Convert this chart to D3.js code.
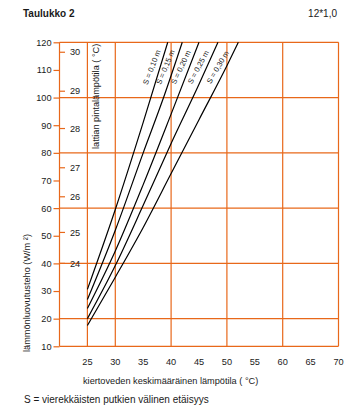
<!DOCTYPE html>
<html>
<head>
<meta charset="utf-8">
<script src="https://cdn.jsdelivr.net/npm/d3@7"></script>
<style>
  html, body { margin: 0; padding: 0; background: #fff; }
  svg { display: block; font-family: "Liberation Sans", Arial, sans-serif; }
</style>
</head>
<body>
<svg id="chart" width="349" height="411"></svg>
<script>
// Heat output of floor heating by mean circulating water temperature,
// one curve per pipe spacing S.
const waterTempTicks = [25, 30, 35, 40, 45, 50, 55, 60, 65, 70];
const heatTicks = [10, 20, 30, 40, 50, 60, 70, 80, 90, 100, 110, 120];
const gridTemps = [20, 25, 30, 40, 50, 60, 70];
const gridHeat = [10, 20, 40, 60, 80, 100, 120];

// Floor surface temperature scale, placed against the heat output axis
const floorTemps = [24, 25, 26, 27, 28, 29, 30];
const floorHeat = [40, 51.2, 64.1, 74.6, 88.8, 102.3, 116.4];

// Pipe spacings and their curves (water temperature °C, heat output W/m²)
const spacings = ["0,10", "0,15", "0,20", "0,25", "0,30"];
const s010Temp = [25, 30, 35, 39.4];
const s010Heat = [30.6, 59.5, 91, 120];
const s015Temp = [25, 30, 35, 38.65, 42];
const s015Heat = [26.9, 52, 80, 100, 120];
const s020Temp = [25, 30, 35, 40, 45];
const s020Heat = [23.7, 44.5, 68.5, 94, 120];
const s025Temp = [25, 30, 35, 40, 45, 48.4];
const s025Heat = [20, 39.2, 61, 83.4, 104.8, 120];
const s030Temp = [25, 30, 35, 40, 45, 50, 52.05];
const s030Heat = [17.5, 35, 53, 72.5, 92, 111.5, 120];

const seriesTemp = [s010Temp, s015Temp, s020Temp, s025Temp, s030Temp];
const seriesHeat = [s010Heat, s015Heat, s020Heat, s025Heat, s030Heat];

const ORANGE = "#e8681a";
const TEXT = "#1a1a1a";

const svg = d3.select("#chart");
svg.append("rect").attr("width", 349).attr("height", 411).attr("fill", "#fff");

const x = d3.scaleLinear().domain([20, 70]).range([59.5, 338.5]);
const y = d3.scaleLinear().domain([10, 120]).range([346.3, 42.3]);

// Header
svg.append("text").attr("x", 23).attr("y", 17)
  .attr("font-size", 10).attr("font-weight", "bold").attr("fill", TEXT)
  .text("Taulukko 2");
svg.append("text").attr("x", 337).attr("y", 17)
  .attr("font-size", 10).attr("text-anchor", "end").attr("fill", TEXT)
  .text("12*1,0");

// Grid
const grid = svg.append("g").attr("stroke", ORANGE).attr("stroke-width", 1.2);
grid.selectAll("line.h").data(gridHeat).join("line").attr("class", "h")
  .attr("x1", x(20)).attr("x2", x(70))
  .attr("y1", d => y(d)).attr("y2", d => y(d));
grid.selectAll("line.v").data(gridTemps).join("line").attr("class", "v")
  .attr("x1", d => x(d)).attr("x2", d => x(d))
  .attr("y1", y(10)).attr("y2", y(120));

// Heat output axis
const yAxis = d3.axisLeft(y).tickValues(heatTicks).tickSize(6).tickPadding(2)
  .tickFormat(d3.format("d"));
const yG = svg.append("g").attr("transform", `translate(${x(20)},0)`).call(yAxis);
yG.select(".domain").remove();
yG.selectAll(".tick line").attr("stroke", ORANGE).attr("stroke-width", 1.2);
yG.selectAll(".tick text").attr("fill", TEXT).attr("font-size", 9.2)
  .attr("font-family", "Liberation Sans, Arial, sans-serif");

// Floor surface temperature scale (ticks inside the plot)
const fG = svg.append("g");
fG.selectAll("line").data(floorTemps).join("line")
  .attr("x1", x(20)).attr("x2", x(20) + 5.5)
  .attr("y1", (d, i) => y(floorHeat[i])).attr("y2", (d, i) => y(floorHeat[i]))
  .attr("stroke", ORANGE).attr("stroke-width", 1.2);
fG.selectAll("text").data(floorTemps).join("text")
  .attr("x", x(20) + 10.5).attr("y", (d, i) => y(floorHeat[i]))
  .attr("dy", "0.35em").attr("font-size", 9.2).attr("fill", TEXT)
  .text(d => d);

// Water temperature tick labels
svg.append("g").selectAll("text").data(waterTempTicks).join("text")
  .attr("x", d => x(d)).attr("y", 364.5)
  .attr("text-anchor", "middle").attr("font-size", 9.2).attr("fill", TEXT)
  .text(d => d);

// Axis titles
svg.append("text").attr("x", 83).attr("y", 383.5)
  .attr("font-size", 9.2).attr("fill", TEXT)
  .text("kiertoveden keskimääräinen lämpötila ( °C)");
svg.append("text").attr("transform", "translate(30,352) rotate(-90)")
  .attr("font-size", 9.2).attr("fill", TEXT)
  .text("lämmönluovutusteho (W/m ²)");
svg.append("text").attr("transform", "translate(98.5,149) rotate(-90)")
  .attr("font-size", 9.2).attr("fill", TEXT)
  .text("lattian pintalämpötila ( °C)");

// Curves
const line = d3.line().x(d => x(d[0])).y(d => y(d[1])).curve(d3.curveMonotoneX);
const curveG = svg.append("g");
seriesTemp.forEach((temps, i) => {
  const pts = temps.map((t, j) => [t, seriesHeat[i][j]]);
  curveG.append("path").datum(pts)
    .attr("d", line).attr("fill", "none")
    .attr("stroke", "#000").attr("stroke-width", 1.2);
});

// Water temperature on a curve at a given heat output
function tempAt(i, q) {
  const temps = seriesTemp[i], heats = seriesHeat[i];
  for (let j = 1; j < heats.length; j++) {
    if (q <= heats[j]) {
      const f = (q - heats[j - 1]) / (heats[j] - heats[j - 1]);
      return temps[j - 1] + f * (temps[j] - temps[j - 1]);
    }
  }
  return temps[temps.length - 1];
}

// Spacing labels, set along each curve near its top
spacings.forEach((s, i) => {
  const qMid = 111;
  const px = x(tempAt(i, qMid)), py = y(qMid);
  const ax = x(tempAt(i, 104)), ay = y(104);
  const bx = x(tempAt(i, 118)), by = y(118);
  const ang = Math.atan2(by - ay, bx - ax) * 180 / Math.PI + 4;
  svg.append("text")
    .attr("transform", `translate(${px - 8.5},${py}) rotate(${ang})`)
    .attr("text-anchor", "middle").attr("dy", "0.35em")
    .attr("font-size", 7.5).attr("fill", TEXT)
    .text(`S = ${s} m`);
});

// Footnote
svg.append("text").attr("x", 24).attr("y", 403)
  .attr("font-size", 10).attr("fill", TEXT)
  .text("S = vierekkäisten putkien välinen etäisyys");
</script>
</body>
</html>
